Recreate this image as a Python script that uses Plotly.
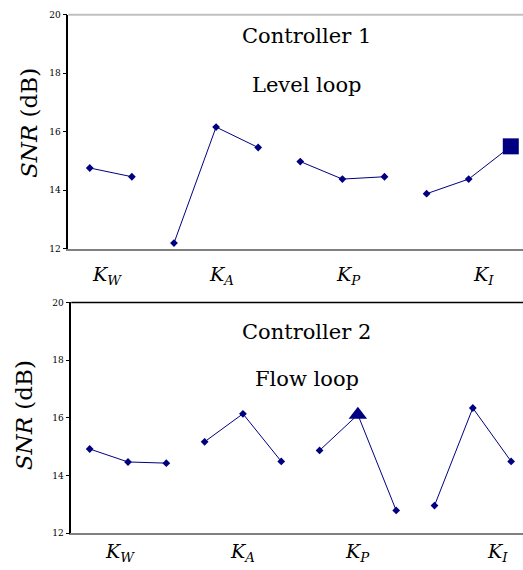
import plotly.graph_objects as go

# ---------------- data ----------------
factor_names = ["W", "A", "P", "I"]

c1_kw = [14.76, 14.46]
c1_ka = [12.19, 16.16, 15.46]
c1_kp = [14.98, 14.38, 14.46]
c1_ki = [13.88, 14.38, 15.50]

c2_kw = [14.92, 14.47, 14.43]
c2_ka = [15.17, 16.14, 14.49]
c2_kp = [14.87, 16.11, 12.79]
c2_ki = [12.96, 16.34, 14.49]

y_ticks = [12, 14, 16, 18, 20]

# optimum level (group index, level index) per controller
c1_best = (3, 2)
c2_best = (2, 1)

NAVY = "#000080"
FONT = "DejaVu Serif"
W, H = 523, 570

fig = go.Figure()


def add_controller(groups, best, xa, ya, best_symbol):
    pos = 0
    for gi, vals in enumerate(groups):
        xs = [pos + i + 1 for i in range(len(vals))]
        fig.add_trace(go.Scatter(
            x=xs, y=vals, mode="lines+markers", xaxis=xa, yaxis=ya,
            line=dict(color=NAVY, width=1),
            marker=dict(symbol="diamond", size=6, color=NAVY),
            showlegend=False, hoverinfo="x+y", cliponaxis=False))
        if gi == best[0]:
            fig.add_trace(go.Scatter(
                x=[xs[best[1]]], y=[vals[best[1]]], mode="markers",
                xaxis=xa, yaxis=ya,
                marker=dict(symbol=best_symbol, size=16, color=NAVY),
                showlegend=False, hoverinfo="x+y", cliponaxis=False))
        pos += len(vals)


add_controller([c1_kw, c1_ka, c1_kp, c1_ki], c1_best, "x", "y", "square")
add_controller([c2_kw, c2_ka, c2_kp, c2_ki], c2_best, "x2", "y2", "triangle-up")

# plot-area geometry (pixels)
top1, bot1, left1 = 10, 248, 68.3
top2, bot2, left2 = 302.7, 537.7, 71.3


def ydom(t, b):
    return [1 - b / H, 1 - t / H]


axis_common = dict(showgrid=False, zeroline=False, fixedrange=True)
yaxis_common = dict(
    axis_common, range=[12, 20], tickvals=y_ticks, ticks="outside", ticklen=4,
    tickcolor="black", tickwidth=1, showline=True, linecolor="black",
    linewidth=1.5, tickfont=dict(family=FONT, size=9, color="black"))

fig.update_layout(
    width=W, height=H, margin=dict(l=0, r=0, t=0, b=0),
    paper_bgcolor="white", plot_bgcolor="white",
    font=dict(family=FONT),
    xaxis=dict(axis_common, domain=[left1 / W, 1], range=[0.49, 11.29],
               showticklabels=False, showline=True, linecolor="#808080",
               linewidth=1.5, anchor="y"),
    yaxis=dict(yaxis_common, domain=ydom(top1, bot1), anchor="x"),
    xaxis2=dict(axis_common, domain=[left2 / W, 1], range=[0.52, 12.31],
                showticklabels=False, showline=True, linecolor="#808080",
                linewidth=2, anchor="y2"),
    yaxis2=dict(yaxis_common, domain=ydom(top2, bot2), anchor="x2"),
)

# top border lines
fig.add_shape(type="line", xref="paper", yref="paper",
              x0=left1 / W, x1=1, y0=1 - top1 / H, y1=1 - top1 / H,
              line=dict(color="#c0c0c0", width=2))
fig.add_shape(type="line", xref="paper", yref="paper",
              x0=left2 / W, x1=1, y0=1 - top2 / H, y1=1 - top2 / H,
              line=dict(color="black", width=1.5))

title_font = dict(family=FONT, size=21, color="black")
ytitle_font = dict(family=FONT, size=23, color="black")
ann = []
for txt, yc in [("Controller 1", 32), ("Level loop", 81),
                ("Controller 2", 332.5), ("Flow loop", 381)]:
    ann.append(dict(text=txt, x=306.7 / W, y=1 - yc / H, xref="paper",
                    yref="paper", showarrow=False, font=title_font,
                    xanchor="center", yanchor="middle"))

for xc, yc in [(29, 120), (24, 417.5)]:
    ann.append(dict(text="<i>SNR</i> (dB)", x=xc / W, y=1 - yc / H,
                    xref="paper", yref="paper", showarrow=False,
                    font=ytitle_font, textangle=-90,
                    xanchor="center", yanchor="middle"))

# factor labels below each panel
lab_font = dict(family=FONT, size=19, color="black")
lab1_x = [106.5, 221, 348, 483]
lab2_x = [120, 242, 357.5, 497]
for name, xc in zip(factor_names, lab1_x):
    ann.append(dict(text=f"<i>K<sub>{name}</sub></i>", x=xc / W, y=1 - 275 / H,
                    xref="paper", yref="paper", showarrow=False,
                    font=lab_font, xanchor="center", yanchor="middle"))
for name, xc in zip(factor_names, lab2_x):
    ann.append(dict(text=f"<i>K<sub>{name}</sub></i>", x=xc / W, y=1 - 557 / H,
                    xref="paper", yref="paper", showarrow=False,
                    font=lab_font, xanchor="center", yanchor="middle"))

fig.update_layout(annotations=ann)
fig.write_html("out.html")
